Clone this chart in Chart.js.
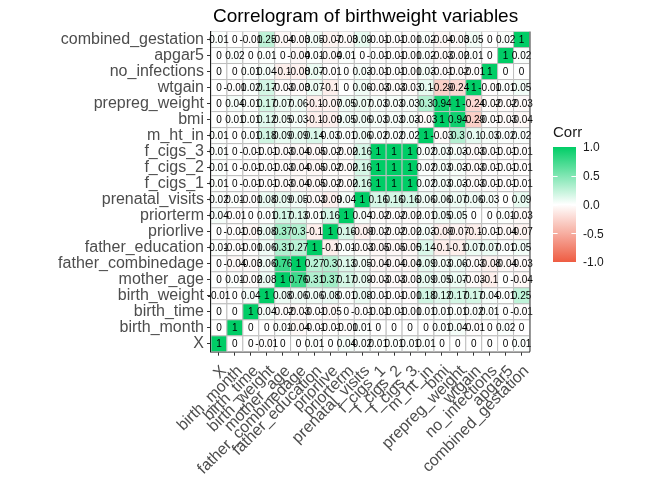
<!DOCTYPE html>
<html>
<head>
<meta charset="utf-8">
<script src="https://cdn.jsdelivr.net/npm/chart.js@4.4.1/dist/chart.umd.min.js"></script>
<style>
  html, body { margin: 0; padding: 0; background: #fff; }
  #wrap { width: 672px; height: 480px; position: relative; }
</style>
</head>
<body>
<div id="wrap"><canvas id="corrChart"></canvas></div>
<script>
// ── Variables (x: left -> right, y: bottom -> top) ──
const variables = [
  'X', 'birth_month', 'birth_time', 'birth_weight', 'mother_age',
  'father_combinedage', 'father_education', 'priorlive', 'priorterm',
  'prenatal_visits', 'f_cigs_1', 'f_cigs_2', 'f_cigs_3', 'm_ht_in', 'bmi',
  'prepreg_weight', 'wtgain', 'no_infections', 'apgar5', 'combined_gestation'
];

// ── Correlations, lower triangle (row i holds columns 0..i) ──
const corrLower = [
  [1],
  [0, 1],
  [0, 0, 1],
  [-0.01, 0, 0.04, 1],
  [0, 0.01, -0.02, 0.08, 1],
  [0, -0.04, -0.03, 0.06, 0.76, 1],
  [0.01, -0.01, -0.01, 0.06, 0.31, 0.27, 1],
  [0, -0.01, -0.05, 0.08, 0.37, 0.3, -0.1, 1],
  [0.04, -0.01, 0, 0.01, 0.17, 0.13, 0.01, 0.16, 1],
  [0.02, 0.01, -0.01, 0.08, 0.09, 0.05, -0.03, -0.09, 0.04, 1],
  [0.01, 0, -0.01, -0.01, -0.03, -0.04, -0.05, -0.02, -0.02, 0.16, 1],
  [0.01, 0, -0.01, -0.01, -0.03, -0.04, -0.05, -0.02, -0.02, 0.16, 1, 1],
  [0.01, 0, -0.01, -0.01, -0.03, -0.04, -0.05, -0.02, -0.02, 0.16, 1, 1, 1],
  [0.01, 0, 0.01, 0.18, 0.09, 0.09, 0.14, 0.03, 0.01, 0.06, 0.02, 0.02, 0.02, 1],
  [0, 0.01, 0.01, 0.12, 0.05, 0.03, -0.1, -0.09, 0.05, 0.06, 0.03, 0.03, 0.03, -0.03, 1],
  [0, 0.04, 0.01, 0.17, 0.07, 0.06, -0.1, -0.07, 0.05, 0.07, 0.03, 0.03, 0.03, 0.3, 0.94, 1],
  [0, -0.01, 0.02, 0.17, -0.03, -0.03, 0.07, -0.1, 0, 0.06, -0.03, -0.03, -0.03, 0.1, -0.29, -0.24, 1],
  [0, 0, 0.01, 0.04, -0.1, -0.08, 0.07, -0.01, 0, 0.03, -0.01, -0.01, -0.01, 0.03, -0.01, -0.02, -0.01, 1],
  [0, 0.02, 0, 0.01, 0, -0.04, 0.01, -0.04, 0.01, 0, -0.01, -0.01, -0.01, 0.02, -0.03, -0.02, 0.01, 0, 1],
  [0.01, 0, -0.01, 0.25, -0.04, -0.03, 0.05, -0.07, -0.03, 0.09, -0.01, -0.01, -0.01, 0.02, -0.04, -0.03, 0.05, 0, 0.02, 1]
];

// ── Legend scale ──
const legendTicks = [1.0, 0.5, 0.0, -0.5, -1.0];
const legendTitle = 'Corr';
const chartTitle = 'Correlogram of birthweight variables';

const FONT = '"Liberation Sans", Arial, sans-serif';
Chart.defaults.font.family = FONT;

// tomato2 -> white -> springgreen3
const LOW = [238, 92, 66], MID = [255, 255, 255], HIGH = [0, 205, 102];
function corrColour(v) {
  const end = v < 0 ? LOW : HIGH;
  const t = Math.min(Math.abs(v), 1);
  const c = MID.map((m, k) => Math.round(m + (end[k] - m) * t));
  return `rgb(${c[0]},${c[1]},${c[2]})`;
}

function corrAt(i, j) {
  return i >= j ? corrLower[i][j] : corrLower[j][i];
}

// one cell per (x, y) pair
const cells = [];
variables.forEach((_, yi) => {
  variables.forEach((_, xi) => {
    cells.push({ x: xi, y: yi, v: corrAt(yi, xi) });
  });
});

function cellRadius(chart) {
  const a = chart.chartArea;
  if (!a) return 5;
  const side = (a.width / variables.length + a.height / variables.length) / 2;
  return side / Math.SQRT2;
}

// ── Valeurs dans les cases ──
const cellLabels = {
  id: 'cellLabels',
  afterDatasetsDraw(chart) {
    const { ctx } = chart;
    const meta = chart.getDatasetMeta(0);
    ctx.save();
    ctx.font = `10px ${FONT}`;
    ctx.fillStyle = '#000';
    ctx.textAlign = 'center';
    ctx.textBaseline = 'middle';
    meta.data.forEach((pt, i) => {
      ctx.fillText(String(cells[i].v), pt.x, pt.y + 0.5);
    });
    ctx.restore();
  }
};

// ── Title, right border and colour bar legend ──
const panelExtras = {
  id: 'panelExtras',
  afterDraw(chart) {
    const { ctx, chartArea: a } = chart;
    ctx.save();

    // right edge of the panel
    ctx.strokeStyle = '#333';
    ctx.lineWidth = 1;
    ctx.beginPath();
    ctx.moveTo(a.right + 0.5, a.top);
    ctx.lineTo(a.right + 0.5, a.bottom);
    ctx.stroke();

    // title, left aligned on the panel
    ctx.fillStyle = '#000';
    ctx.font = `19px ${FONT}`;
    ctx.textAlign = 'left';
    ctx.textBaseline = 'middle';
    ctx.fillText(chartTitle, a.left + 2, 17);

    // colour bar
    const barX = 553, barW = 23, barTop = 147, barBot = 262;
    const grad = ctx.createLinearGradient(0, barTop, 0, barBot);
    for (let k = 0; k <= 20; k++) {
      grad.addColorStop(k / 20, corrColour(1 - k / 10));
    }
    ctx.fillStyle = grad;
    ctx.fillRect(barX, barTop, barW, barBot - barTop);

    const yOf = v => barTop + (1 - v) / 2 * (barBot - barTop);
    ctx.strokeStyle = '#fff';
    ctx.lineWidth = 1;
    legendTicks.forEach(v => {
      if (Math.abs(v) === 1) return;
      const y = Math.round(yOf(v)) + 0.5;
      ctx.beginPath();
      ctx.moveTo(barX, y); ctx.lineTo(barX + 4.6, y);
      ctx.moveTo(barX + barW - 4.6, y); ctx.lineTo(barX + barW, y);
      ctx.stroke();
    });

    ctx.fillStyle = '#1a1a1a';
    ctx.font = `12px ${FONT}`;
    ctx.textAlign = 'left';
    legendTicks.forEach(v => {
      ctx.fillText(v.toFixed(1), barX + 30, yOf(v) + 1);
    });

    ctx.font = `15px ${FONT}`;
    ctx.fillText(legendTitle, barX, 133);
    ctx.restore();
  }
};

const tickFont = { family: FONT, size: 16 };
const indexTicks = s => { s.ticks = variables.map((_, i) => ({ value: i })); };

new Chart(document.getElementById('corrChart').getContext('2d'), {
  type: 'scatter',
  data: {
    datasets: [{
      data: cells,
      pointStyle: 'rect',
      pointRadius: c => cellRadius(c.chart),
      pointHoverRadius: c => cellRadius(c.chart),
      backgroundColor: c => (c.raw ? corrColour(c.raw.v) : '#fff'),
      borderColor: '#BEBEBE',
      borderWidth: 1
    }]
  },
  options: {
    responsive: true,
    maintainAspectRatio: false,
    animation: false,
    events: [],
    layout: { padding: { top: 31.5, right: 142.5, left: 0, bottom: 0 } },
    plugins: {
      legend: { display: false },
      tooltip: { enabled: false },
      title: { display: false }
    },
    scales: {
      x: {
        type: 'linear',
        min: -0.5,
        max: variables.length - 0.5,
        afterBuildTicks: indexTicks,
        afterFit: s => { s.height = 128.3; },
        ticks: {
          autoSkip: false,
          maxRotation: 45,
          minRotation: 45,
          padding: 6,
          labelOffset: 5,
          font: tickFont,
          color: '#4D4D4D',
          callback: v => variables[v]
        },
        grid: { drawOnChartArea: false, tickLength: 4, color: '#333' },
        border: { color: '#1a1a1a', width: 1.5 }
      },
      y: {
        type: 'linear',
        min: -0.5,
        max: variables.length - 0.5,
        afterBuildTicks: indexTicks,
        afterFit: s => { s.width = 211; },
        ticks: {
          autoSkip: false,
          padding: 3,
          font: tickFont,
          color: '#4D4D4D',
          callback: v => variables[v]
        },
        grid: { drawOnChartArea: false, tickLength: 4, color: '#333' },
        border: { color: '#1a1a1a', width: 1.5 }
      }
    }
  },
  plugins: [cellLabels, panelExtras]
});
</script>
</body>
</html>
